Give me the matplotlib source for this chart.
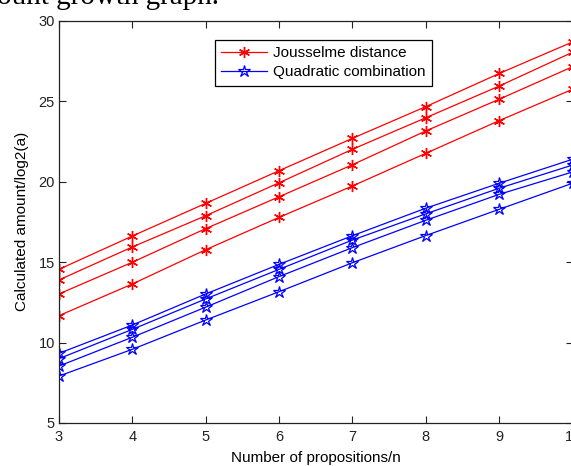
import matplotlib.pyplot as plt

# values
n_props = [3, 4, 5, 6, 7, 8, 9, 10]

jousselme = [
    [14.55, 16.62, 18.65, 20.68, 22.69, 24.66, 26.72, 28.68],
    [13.89, 15.94, 17.88, 19.93, 22.01, 23.97, 25.94, 28.04],
    [13.02, 14.99, 17.08, 19.06, 21.05, 23.15, 25.12, 27.14],
    [11.67, 13.64, 15.77, 17.78, 19.73, 21.76, 23.79, 25.74],
]
quadratic = [
    [9.33, 11.09, 13.02, 14.86, 16.64, 18.35, 19.90, 21.39],
    [9.00, 10.82, 12.71, 14.55, 16.37, 18.00, 19.59, 21.03],
    [8.54, 10.33, 12.20, 14.10, 15.90, 17.60, 19.21, 20.60],
    [7.92, 9.58, 11.40, 13.16, 14.96, 16.65, 18.28, 19.90],
]

plt.rcParams['font.family'] = ['Liberation Sans', 'DejaVu Sans']

W, H = 571, 466
fig = plt.figure(figsize=(W / 100, H / 100), dpi=100)
ax = fig.add_axes([59 / W, 43 / H, (572.6 - 59) / W, (423 - 20.7) / H])

for i, ys in enumerate(jousselme):
    ax.plot(n_props, ys, color='red', linewidth=0.9,
            marker=(6, 2, 0), markersize=8, markeredgewidth=1.0,
            label='Jousselme distance' if i == 0 else None)
for i, ys in enumerate(quadratic):
    ax.plot(n_props, ys, color='blue', linewidth=0.9,
            marker='*', markersize=9, markerfacecolor='none', markeredgewidth=0.9,
            label='Quadratic combination' if i == 0 else None)

ax.set_xlim(3, 10)
ax.set_ylim(5, 30)
ax.set_xticks(n_props)
ax.set_yticks([5, 10, 15, 20, 25, 30])
ax.tick_params(direction='in', length=5, width=0.8, top=True, right=True,
               labelsize=10.5, colors='#222222')
ax.tick_params(axis='x', pad=5)
ax.tick_params(axis='y', pad=3)
for s in ax.spines.values():
    s.set_linewidth(0.9)
    s.set_color('#222222')

ax.set_xlabel('Number of propositions/n', fontsize=11, labelpad=5)
ax.set_ylabel('Calculated amount/log2(a)', fontsize=11, labelpad=7)

leg = ax.legend(loc='upper left', bbox_to_anchor=(215 / W, 1 - 40 / H),
                bbox_transform=fig.transFigure, borderaxespad=0,
                fontsize=11, fancybox=False, framealpha=1, edgecolor='black',
                handlelength=3.0, handletextpad=0.4, borderpad=0.4,
                labelspacing=0.35)
leg.get_frame().set_linewidth(0.9)

# caption fragment from the page, cut off at the top
fig.text(-3 / W, 1 - 4 / H, 'ount growth graph.', fontsize=21,
         family='Liberation Serif', va='baseline', ha='left')

fig.savefig('out.png', dpi=100)
